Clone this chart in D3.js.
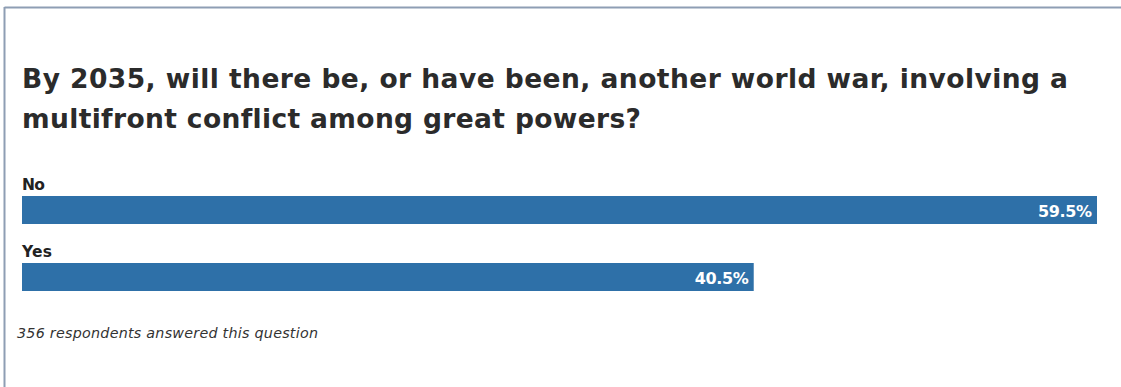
<!DOCTYPE html>
<html>
<head>
<meta charset="utf-8">
<script src="https://cdn.jsdelivr.net/npm/d3@7/dist/d3.min.js"></script>
<style>
  html, body { margin: 0; padding: 0; background: #fff; }
  svg { display: block; }
</style>
</head>
<body>
<svg id="chart" width="1121" height="387"></svg>
<script>
// Poll question and answers
const titleLines = [
  "By 2035, will there be, or have been, another world war, involving a",
  "multifront conflict among great powers?"
];
const categories = ["No", "Yes"];
const shares = [59.5, 40.5];
const footnote = "356 respondents answered this question";

const W = 1121, H = 387;
const FONT = "'DejaVu Sans', 'Open Sans', sans-serif";
const svg = d3.select("#chart");

// spread a text run so it spans a given width
function fitWidth(sel, target) {
  sel.each(function (d) {
    const t = typeof target === "function" ? target.apply(this, arguments) : target;
    const n = this.textContent.length;
    const w = this.getComputedTextLength();
    if (n > 1) d3.select(this).attr("letter-spacing", ((t - w) / (n - 1)).toFixed(3));
  });
  return sel;
}

// card frame: top and left rules
svg.append("line").attr("x1", 4.5).attr("x2", W).attr("y1", 7.5).attr("y2", 7.5)
  .attr("stroke", "#8e9eb4").attr("stroke-width", 2);
svg.append("line").attr("x1", 4.5).attr("x2", 4.5).attr("y1", 7).attr("y2", H)
  .attr("stroke", "#8e9eb4").attr("stroke-width", 2);

// title
const titleWidths = [1046, 618];
svg.append("g").selectAll("text").data(titleLines).join("text")
  .attr("x", 22).attr("y", (d, i) => 88 + i * 40)
  .attr("font-family", FONT)
  .attr("font-weight", 700).attr("font-size", 26.5)
  .attr("fill", "#2b2b2b")
  .text(d => d)
  .call(fitWidth, (d, i) => titleWidths[i]);

// scales
const x = d3.scaleLinear().domain([0, d3.max(shares)]).range([22, 1097]);
const rowY = d3.scalePoint().domain(categories).range([196, 263]);
const barH = 28;

const rows = svg.append("g").selectAll("g").data(categories).join("g")
  .attr("transform", d => `translate(0,${rowY(d)})`);

rows.append("text")
  .attr("x", 22).attr("y", -6)
  .attr("font-family", FONT)
  .attr("font-weight", 700).attr("font-size", 15.5)
  .attr("fill", "#222")
  .text(d => d)
  .call(fitWidth, d => d === "No" ? 23 : 30);

rows.append("rect")
  .attr("x", x(0)).attr("y", 0)
  .attr("width", (d, i) => x(shares[i]) - x(0))
  .attr("height", barH)
  .attr("fill", "#2e70a8");

const valW = 54;
rows.append("text")
  .attr("x", (d, i) => x(shares[i]) - 5 - valW)
  .attr("y", 21)
  .attr("font-family", FONT)
  .attr("font-weight", 700).attr("font-size", 16)
  .attr("fill", "#fff")
  .text((d, i) => d3.format(".1f")(shares[i]) + "%")
  .call(fitWidth, valW);

// respondent count
svg.append("text")
  .attr("x", 17).attr("y", 338)
  .attr("font-family", FONT)
  .attr("font-style", "italic").attr("font-size", 14.3)
  .attr("fill", "#333")
  .text(footnote)
  .call(fitWidth, 301);
</script>
</body>
</html>
